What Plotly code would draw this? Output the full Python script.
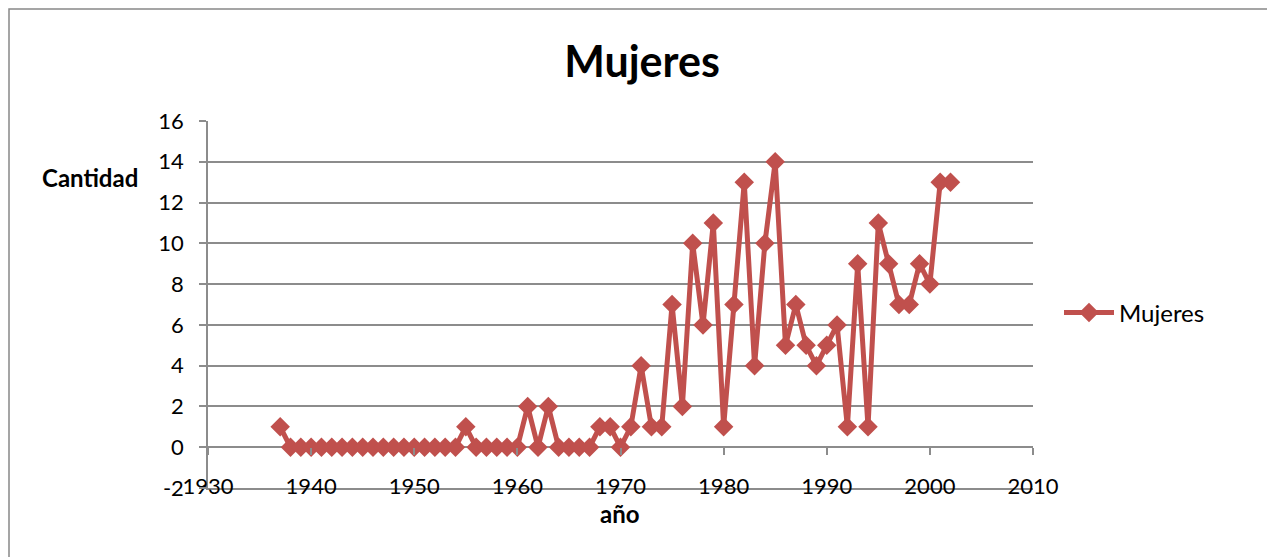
import plotly.graph_objects as go

years = list(range(1937, 2003))
mujeres = [1] + [0]*17 + [1] + [0]*5 + [2, 0, 2] + [0]*4 + [
    1, 1, 0, 1, 4, 1, 1, 7, 2, 10, 6, 11, 1, 7, 13, 4, 10, 14,
    5, 7, 5, 4, 5, 6, 1, 9, 1, 11, 9, 7, 7, 9, 8, 13, 13]
y_ticks = [-2, 0, 2, 4, 6, 8, 10, 12, 14, 16]
y_ticklabels = ["-2", "0", "2", "4", "6", "8", "10", "12", "14", "16"]

RED = "#C0504D"
GRID = "#8C8C8C"
FONT = "Lato"

fig = go.Figure()
fig.add_trace(go.Scatter(
    x=years, y=mujeres, mode="lines+markers", name="Mujeres",
    line=dict(color=RED, width=5),
    marker=dict(symbol="diamond", size=15, color=RED),
))

OFF = 8  # page body margin
W, H = 1275 - OFF, 557 - OFF
L, T = 208 - OFF, 121 - OFF
R = W - (1033 - OFF)
B = H - (488 - OFF)
pw, ph = W - L - R, H - T - B

def px(x):
    return (x - 208) / pw

def py(y):
    return (488 - y) / ph

fig.update_layout(
    width=W, height=H,
    margin=dict(l=L, r=R, t=T, b=B, pad=0),
    paper_bgcolor="white", plot_bgcolor="white",
    font=dict(family=FONT, color="black", size=22),
    title=dict(text="<b>Mujeres</b>", x=px(642), xref="paper", xanchor="center",
               y=1 - (62 - OFF) / H, yref="container", yanchor="middle",
               font=dict(size=43, family=FONT, color="black")),
    showlegend=True,
    legend=dict(x=px(1059), xanchor="left", y=py(313), yanchor="middle", itemwidth=50,
                font=dict(size=24, family=FONT), bgcolor="rgba(0,0,0,0)"),
    xaxis=dict(range=[1930, 2010], dtick=10, tick0=1930, showgrid=False, zeroline=False,
               showline=True, linecolor=GRID, linewidth=1.5, ticks="", ticklabelstandoff=-22,
               tickfont=dict(size=22, family=FONT)),
    xaxis2=dict(range=[1930, 2010], dtick=10, tick0=1930, overlaying="x", anchor="free",
                position=2 / 18, side="bottom", showgrid=False, zeroline=False, showline=False,
                ticks="outside", ticklen=7, tickcolor=GRID, tickwidth=1.5, showticklabels=False),
    yaxis=dict(range=[-2, 16], tickmode="array", tickvals=y_ticks, ticktext=y_ticklabels,
               showgrid=True, gridcolor=GRID, gridwidth=1.5,
               zeroline=False, showline=True, linecolor=GRID, linewidth=1.5,
               ticks="outside", ticklen=7, tickcolor=GRID, tickwidth=1.5,
               ticklabelstandoff=11, tickfont=dict(size=22, family=FONT)),
    annotations=[
        dict(text="<b>Cantidad</b>", x=px(90), y=py(177), xref="paper", yref="paper",
             showarrow=False, xanchor="center", yanchor="middle", font=dict(size=24, family=FONT)),
        dict(text="<b>año</b>", x=px(620), y=py(513), xref="paper", yref="paper",
             showarrow=False, xanchor="center", yanchor="middle", font=dict(size=24, family=FONT)),
    ],
    shapes=[dict(type="rect", xref="paper", yref="paper",
                 x0=px(9), x1=px(1273), y0=py(600), y1=py(9),
                 line=dict(color="#888888", width=1.5), fillcolor="rgba(0,0,0,0)", layer="below")],
)
fig.add_trace(go.Scatter(x=[1930], y=[None], xaxis="x2", showlegend=False, hoverinfo="skip"))

fig.write_html("out.html")
